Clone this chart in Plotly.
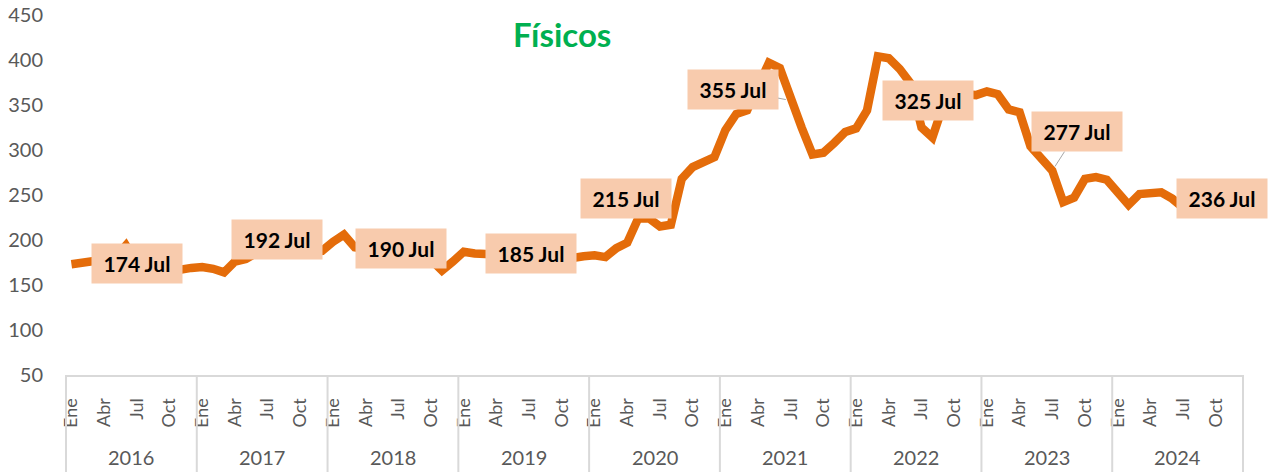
import plotly.graph_objects as go

# ---------------- data ----------------
years = ["2016", "2017", "2018", "2019", "2020", "2021", "2022", "2023", "2024"]
months = ["Ene", "Feb", "Mar", "Abr", "May", "Jun", "Jul", "Ago", "Sep", "Oct", "Nov", "Dic"]
shown_months = ["Ene", "Abr", "Jul", "Oct"]

v2016 = [173, 175, 177, 178, 180, 194, 174, 172, 170, 169, 167, 169]
v2017 = [170, 168, 164, 176, 179, 186, 192, 190, 188, 187, 187, 188]
v2018 = [198, 206, 192, 190, 188, 189, 190, 187, 184, 178, 166, 176]
v2019 = [187, 185, 184, 184, 185, 184, 185, 183, 182, 181, 180, 182]
v2020 = [183, 181, 191, 197, 224, 224, 215, 217, 268, 281, 287, 292]
v2021 = [322, 340, 344, 372, 397, 391, 355, 325, 295, 297, 308, 320]
v2022 = [324, 344, 404, 402, 390, 374, 325, 314, 350, 358, 362, 361]
v2023 = [365, 362, 345, 342, 304, 292, 277, 242, 247, 268, 270, 267]
v2024 = [254, 239, 251, 252, 253, 246, 236]

values = v2016 + v2017 + v2018 + v2019 + v2020 + v2021 + v2022 + v2023 + v2024
label_month = "Jul"
title_text = "Físicos"

# ---------------- styles ----------------
LINE_COLOR = "#E46C0A"
BOX_COLOR = "#F8CBAD"
AXIS_GRAY = "#D9D9D9"
TEXT_GRAY = "#595959"
FONT = "Lato"

n_cat = 12 * len(years)
x_idx = list(range(len(values)))

fig = go.Figure()
fig.add_trace(go.Scatter(
    x=x_idx, y=values, mode="lines",
    line=dict(color=LINE_COLOR, width=8.5),
    hoverinfo="skip", showlegend=False,
))

tickvals = [i for i in range(n_cat) if months[i % 12] in shown_months]
ticktext = [months[i % 12] for i in tickvals]

# label offsets (pixels) per labelled year: style only
label_offsets = [(0, 0), (9, -8), (3, -1), (2, 0), (-34, -28),
                 (-58, -11), (6, -27), (25, -39), (39, -9)]
leader_years = {"2021", "2023"}

annotations = []
jul = months.index(label_month)
for k, yr in enumerate(years):
    i = 12 * k + jul
    if i >= len(values):
        continue
    ax_, ay_ = label_offsets[k]
    annotations.append(dict(
        x=i, y=values[i], xref="x", yref="y",
        text=f"{values[i]} {label_month}",
        font=dict(family=FONT, size=21, color="black", weight="bold"),
        bgcolor=BOX_COLOR, width=88, height=37,
        showarrow=True, ax=ax_, ay=ay_, arrowhead=0, arrowwidth=1,
        arrowcolor="#A6A6A6" if yr in leader_years else "rgba(0,0,0,0)",
        standoff=5,
    ))

# year labels under the month labels
for k, yr in enumerate(years):
    annotations.append(dict(
        x=12 * k + 5.5, y=-0.228, xref="x", yref="paper",
        text=yr, showarrow=False, yanchor="middle",
        font=dict(family=FONT, size=20, color=TEXT_GRAY),
    ))

# title
annotations.append(dict(
    x=0.4214, y=0.947, xref="paper", yref="paper",
    text=title_text, showarrow=False, xanchor="center", yanchor="middle",
    font=dict(family=FONT, size=33, color="#00B050", weight="bold"),
))

shapes = []
for k in range(len(years) + 1):
    xp = (12 * k) / n_cat
    shapes.append(dict(
        type="line", xref="paper", yref="paper",
        x0=xp, x1=xp, y0=0, y1=-0.28,
        line=dict(color=AXIS_GRAY, width=2),
    ))

fig.update_layout(
    width=1268, height=472,
    margin=dict(l=66, r=25, t=15, b=97, autoexpand=False),
    plot_bgcolor="white", paper_bgcolor="white",
    annotations=annotations, shapes=shapes,
    xaxis=dict(
        range=[-0.5, n_cat - 0.5], tickmode="array", automargin=False,
        tickvals=tickvals, ticktext=ticktext, tickangle=-90,
        showgrid=False, zeroline=False,
        showline=True, linecolor=AXIS_GRAY, linewidth=2,
        ticks="outside", ticklen=14, tickcolor="rgba(0,0,0,0)",
        tickfont=dict(family=FONT, size=18, color=TEXT_GRAY),
    ),
    yaxis=dict(
        range=[50, 450], tickmode="array", automargin=False,
        tickvals=list(range(50, 451, 50)),
        showgrid=False, zeroline=False, showline=False,
        ticks="outside", ticklen=18, tickcolor="rgba(0,0,0,0)",
        tickfont=dict(family=FONT, size=20, color=TEXT_GRAY),
    ),
)

fig.write_html(
    "out.html",
    config={"displayModeBar": False},
    post_script="document.body.style.margin='0';document.body.style.overflow='hidden';",
)
